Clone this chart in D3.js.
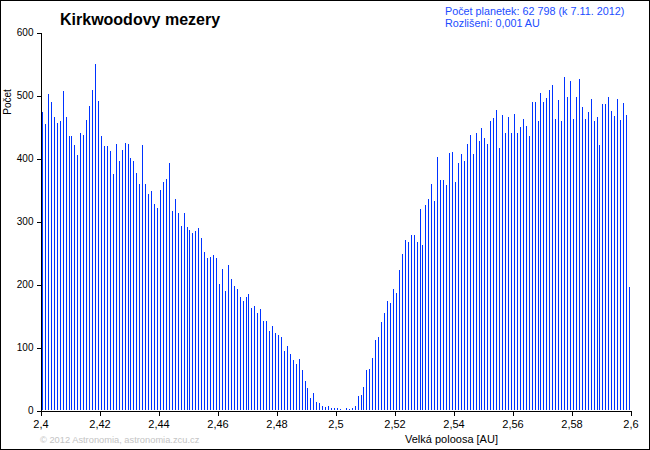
<!DOCTYPE html>
<html>
<head>
<meta charset="utf-8">
<script src="https://cdn.jsdelivr.net/npm/d3@7"></script>
<style>
  body { margin: 0; background: #fff; }
  svg { display: block; font-family: "Liberation Sans", Arial, sans-serif; }
</style>
</head>
<body>
<svg id="chart" width="650" height="450"></svg>
<script>
// ---- data ----
const title = "Kirkwoodovy mezery";
const infoLines = ["Počet planetek: 62 798 (k 7.11. 2012)", "Rozlišení: 0,001 AU"];
const xTitle = "Velká poloosa [AU]";
const yTitle = "Počet";
const credit = "© 2012 Astronomia, astronomia.zcu.cz";
const binStart = 2.401;   // first bin (semi-major axis, AU)
const binStep = 0.001;    // resolution, AU
const counts = [
  473, 454, 502, 489, 465, 456, 459, 506, 465, 435, 435, 421, 405, 440, 437, 460, 483, 508, 549, 490, 435, 419, 419, 411,
  375, 423, 395, 413, 424, 422, 400, 395, 376, 359, 421, 359, 343, 348, 327, 321, 349, 362, 367, 392, 316, 335, 313, 292, 313, 290,
  286, 281, 284, 289, 273, 251, 241, 243, 246, 241, 200, 224, 189, 230, 208, 197, 192, 179, 173, 179, 184, 162, 165, 154, 160, 141,
  141, 125, 133, 122, 119, 116, 94, 102, 89, 79, 73, 81, 63, 46, 35, 19, 27, 13, 11, 6, 5, 6, 3, 3, 3,
  2, 0, 3, 2, 3, 6, 22, 24, 37, 63, 65, 83, 111, 116, 140, 154, 173, 170,
  192, 186, 222, 248, 270, 267, 278, 278, 267, 319, 262, 325, 335, 359, 332, 402, 365, 365, 357, 408, 410, 362, 392, 406, 395, 422, 437, 406, 440, 427, 448, 432, 422, 459, 463,
  476, 416, 468, 440, 465, 440, 470, 440, 449, 462, 451, 435, 489, 489, 459, 503, 489, 495, 508, 516, 462, 492, 459,
  529, 497, 522, 462, 497, 525, 481, 462, 473, 494, 459, 465, 420, 486, 486, 497, 475, 467, 494, 460, 487, 468, 195
];
const xTickValues = [2.4, 2.42, 2.44, 2.46, 2.48, 2.5, 2.52, 2.54, 2.56, 2.58, 2.6];
const xTickLabels = ["2,4", "2,42", "2,44", "2,46", "2,48", "2,5", "2,52", "2,54", "2,56", "2,58", "2,6"];
const yTickValues = [0, 100, 200, 300, 400, 500, 600];

const bins = counts.map((c, i) => ({ a: +(binStart + i * binStep).toFixed(3), c }));

// ---- layout ----
const svg = d3.select("#chart");
const W = 650, H = 450;
const mLeft = 40, mRight = 630, mTop = 32, mBottom = 410;

svg.append("rect").attr("x", 0.5).attr("y", 0.5).attr("width", W - 1).attr("height", H - 1)
  .attr("fill", "#fff").attr("stroke", "#000");

const x = d3.scaleLinear().domain([2.4, 2.6]).range([mLeft, mRight]);
const y = d3.scaleLinear().domain([0, 600]).range([mBottom, mTop]);

// bars
svg.append("g").selectAll("rect").data(bins).join("rect")
  .attr("x", d => Math.round(x(d.a)) - 1)
  .attr("width", 1)
  .attr("y", d => Math.round(y(d.c)))
  .attr("height", d => mBottom - Math.round(y(d.c)))
  .attr("fill", "#0033ff")
  .attr("shape-rendering", "crispEdges");

// axes
const yAxis = d3.axisLeft(y).tickValues(yTickValues).tickSize(4).tickSizeOuter(0).tickPadding(3);
const gy = svg.append("g").attr("transform", `translate(${mLeft + 0.5},0.5)`).call(yAxis);
gy.selectAll("text").attr("font-size", 10).attr("font-family", "Liberation Sans, Arial, sans-serif").attr("fill", "#000");
gy.selectAll("line,path").attr("stroke", "#000").attr("shape-rendering", "crispEdges");

const xAxis = d3.axisBottom(x).tickValues(xTickValues).tickFormat((d, i) => xTickLabels[i])
  .tickSize(5).tickSizeOuter(0).tickPadding(5);
const gx = svg.append("g").attr("transform", `translate(0.5,${mBottom + 0.5})`).call(xAxis);
gx.selectAll("text").attr("font-size", 11).attr("font-family", "Liberation Sans, Arial, sans-serif").attr("fill", "#000");
gx.selectAll("line,path").attr("stroke", "#000").attr("shape-rendering", "crispEdges");

// texts
svg.append("text").attr("x", 60).attr("y", 25).attr("font-size", 16).attr("font-weight", "bold")
  .attr("fill", "#000").text(title);

svg.selectAll("text.info").data(infoLines).join("text").attr("class", "info")
  .attr("x", 445).attr("y", (d, i) => 15 + i * 12).attr("font-size", 10.8).attr("fill", "#1a4cff").text(d => d);

svg.append("text").attr("transform", "translate(11,102) rotate(-90)").attr("text-anchor", "middle")
  .attr("font-size", 10).attr("fill", "#000").text(yTitle);

svg.append("text").attr("x", 405).attr("y", 443).attr("font-size", 11).attr("fill", "#000").text(xTitle);

svg.append("text").attr("x", 40).attr("y", 443).attr("font-size", 9.3).attr("fill", "#c4c4c4").text(credit);
</script>
</body>
</html>
